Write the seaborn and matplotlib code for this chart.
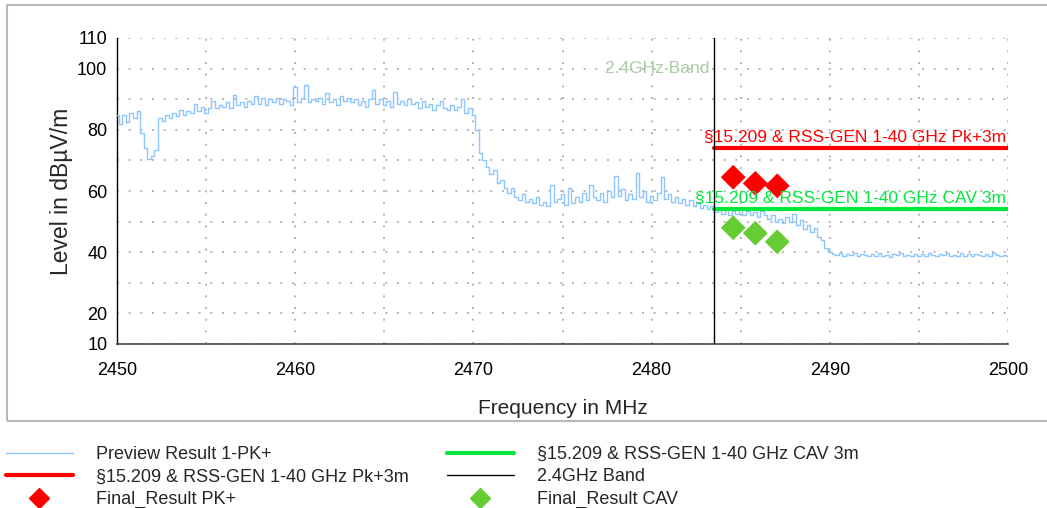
import numpy as np
import matplotlib
matplotlib.use("Agg")
import matplotlib.pyplot as plt
from matplotlib.lines import Line2D
from matplotlib.patches import Rectangle
import seaborn as sns

# Preview sweep: 2450-2500 MHz in 0.2 MHz steps
freq = np.round(np.arange(2450.0, 2500.0001, 0.2), 1)
preview_pk = [
    85.0, 82.0, 85.0, 82.5, 85.5,
    84.0, 86.0, 79.0, 74.0, 70.5,
    71.5, 73.5, 84.0, 83.0, 85.0,
    84.0, 85.5, 84.5, 86.5, 85.0,
    86.0, 85.5, 88.5, 86.0, 87.5,
    85.5, 87.0, 89.5, 87.0, 88.0,
    87.5, 89.0, 87.0, 91.5, 88.0,
    89.0, 87.5, 89.5, 88.5, 91.0,
    88.5, 90.5, 88.0, 90.0, 89.0,
    90.5, 88.5, 90.0, 89.5, 88.0,
    94.0, 89.0, 90.5, 94.5, 89.0,
    90.0, 89.5, 90.5, 88.5, 92.0,
    89.0, 90.0, 88.0, 91.0, 89.5,
    90.5, 89.0, 90.0, 88.0, 89.5,
    87.5, 90.0, 93.0, 88.5, 90.0,
    88.0, 89.5, 87.5, 92.5, 88.5,
    89.5, 88.0, 90.0, 88.5, 89.0,
    87.0, 89.5, 87.5, 88.5, 86.5,
    88.0, 89.5, 87.0, 86.5, 88.0,
    86.5, 87.5, 90.0, 85.5, 87.0,
    85.0, 80.0, 72.5, 70.0, 68.0,
    65.5, 67.0, 62.5, 63.5, 61.0,
    59.5, 61.0, 58.0, 57.0, 59.0,
    56.5, 57.5, 56.0, 58.0, 55.5,
    56.5, 55.0, 62.0, 56.5, 57.5,
    59.0, 55.5, 61.0, 56.0, 58.0,
    56.5, 59.5, 57.0, 62.0, 58.0,
    57.0, 59.5, 56.5, 60.0, 58.0,
    65.0, 58.5, 60.5, 57.0, 59.0,
    57.5, 66.0, 58.0, 60.0, 56.5,
    58.5, 57.0, 59.5, 64.5, 57.5,
    59.0, 56.5, 58.0, 56.0, 57.5,
    55.5, 57.0, 55.0, 56.5, 54.5,
    55.5, 54.0, 55.0, 53.0, 54.5,
    52.5, 54.0, 52.0, 53.5, 52.5,
    54.0, 52.0, 53.5, 52.0, 53.0,
    51.5, 53.5, 52.0, 51.0, 52.0,
    50.0, 51.0, 49.5, 51.5, 50.0,
    52.5, 49.0, 50.5, 47.5, 49.0,
    46.5, 48.0, 45.0, 44.0, 41.5,
    40.0, 39.5, 39.0, 39.8, 38.8,
    39.4, 39.0, 39.6, 38.7, 39.3,
    39.0, 38.6, 39.5, 38.9, 39.8,
    38.8, 39.2, 38.5, 39.4, 39.0,
    39.7, 38.7, 39.1, 38.6, 39.5,
    38.9, 39.3, 38.6, 39.8, 39.0,
    38.7, 39.4, 39.0, 39.9, 38.8,
    39.2, 38.6, 39.6, 38.9, 39.3,
    38.7, 39.5, 39.0, 38.6, 39.4,
    38.8, 39.6, 39.0, 38.7, 39.2,
    38.9,
]

# Limit lines (from band edge to stop frequency)
limit_freq = [2483.5, 2500.0]
limit_pk = [74.0, 74.0]
limit_cav = [54.0, 54.0]
band_edge = 2483.5

# Final measurements
final_freq = [2484.58, 2485.82, 2487.05]
final_pk = [64.5, 62.5, 61.7]
final_cav = [48.0, 46.2, 43.4]

x_ticks = [2450, 2460, 2470, 2480, 2490, 2500]
y_ticks = [10, 20, 40, 60, 80, 100, 110]

trace_color = "#8ec6ff"
red = "#ff0000"
green_line = "#00e83c"
green_mark = "#66cc33"

sns.set_theme(style="white")
plt.rcParams["font.family"] = ["Liberation Sans", "DejaVu Sans"]

fig = plt.figure(figsize=(10.47, 5.08), dpi=100)
ax = fig.add_axes([117 / 1047, 1 - 344 / 508, (1008 - 117) / 1047, (344 - 38) / 508])

sns.lineplot(x=freq, y=preview_pk, ax=ax, color=trace_color, lw=1.0,
             drawstyle="steps-mid", estimator=None, sort=False, zorder=3)
sns.lineplot(x=limit_freq, y=limit_pk, ax=ax, color=red, lw=3.0, zorder=4)
sns.lineplot(x=limit_freq, y=limit_cav, ax=ax, color=green_line, lw=3.0, zorder=4)
ax.axvline(band_edge, color="black", lw=1.0, zorder=5)
sns.scatterplot(x=final_freq, y=final_pk, ax=ax, marker="D", s=160, color=red,
                edgecolor="none", zorder=6)
sns.scatterplot(x=final_freq, y=final_cav, ax=ax, marker="D", s=160, color=green_mark,
                edgecolor="none", zorder=6)

ax.text(2499.9, limit_pk[0] + 1.0, "§15.209 & RSS-GEN 1-40 GHz Pk+3m", color=red,
        ha="right", va="bottom", fontsize=12.5, zorder=7)
ax.text(2499.9, limit_cav[0] + 1.0, "§15.209 & RSS-GEN 1-40 GHz CAV 3m", color=green_line,
        ha="right", va="bottom", fontsize=12.5, zorder=7)
ax.text(band_edge - 0.25, 100, "2.4GHz Band", color="#a8cca2",
        ha="right", va="center", fontsize=12.5, zorder=7)

ax.set_xlim(2450, 2500)
ax.set_ylim(10, 110)
ax.set_xticks(np.arange(2450, 2501, 5), minor=False)
ax.set_xticklabels([str(t) if t in x_ticks else "" for t in range(2450, 2501, 5)])
ax.set_yticks(np.arange(10, 111, 10))
ax.set_yticklabels([str(t) if t in y_ticks else "" for t in range(10, 111, 10)])
ax.tick_params(axis="both", which="major", direction="inout", length=8, width=1,
               colors="black", labelsize=13)
ax.tick_params(axis="x", pad=9)
ax.tick_params(axis="y", pad=3)

ax.grid(True, color="#b4b4b4", lw=1.4, linestyle=(0, (1, 5)))
for side in ("top", "right"):
    ax.spines[side].set_visible(False)
ax.spines["left"].set_color("black")
ax.spines["left"].set_linewidth(1.0)
ax.spines["bottom"].set_color("#444444")
ax.spines["bottom"].set_linewidth(1.2)

ax.set_xlabel("Frequency in MHz", fontsize=15, labelpad=14)
ax.set_ylabel("Level in dBµV/m", fontsize=16.5, labelpad=3)

fig.add_artist(Rectangle((7 / 1047, 1 - 421 / 508), 1.2, (421 - 5) / 508,
                         transform=fig.transFigure, fill=False,
                         edgecolor="#b8b8b8", lw=1.5, clip_on=True))

handles = [
    Line2D([], [], color=trace_color, lw=1.0),
    Line2D([], [], color=red, lw=3.0),
    Line2D([], [], color=red, marker="D", ls="none", ms=10),
    Line2D([], [], color=green_line, lw=3.0),
    Line2D([], [], color="black", lw=1.0),
    Line2D([], [], color=green_mark, marker="D", ls="none", ms=10),
]
labels = [
    "Preview Result 1-PK+",
    "§15.209 & RSS-GEN 1-40 GHz Pk+3m",
    "Final_Result PK+",
    "§15.209 & RSS-GEN 1-40 GHz CAV 3m",
    "2.4GHz Band",
    "Final_Result CAV",
]
fig.legend(handles, labels, ncol=2, loc="upper left",
           bbox_to_anchor=(6 / 1047, 1 - 446 / 508), frameon=False,
           fontsize=13, handlelength=3.7, handletextpad=1.3, columnspacing=2.1,
           labelspacing=0.3, borderpad=0, borderaxespad=0)

fig.savefig("out.png", dpi=100)
